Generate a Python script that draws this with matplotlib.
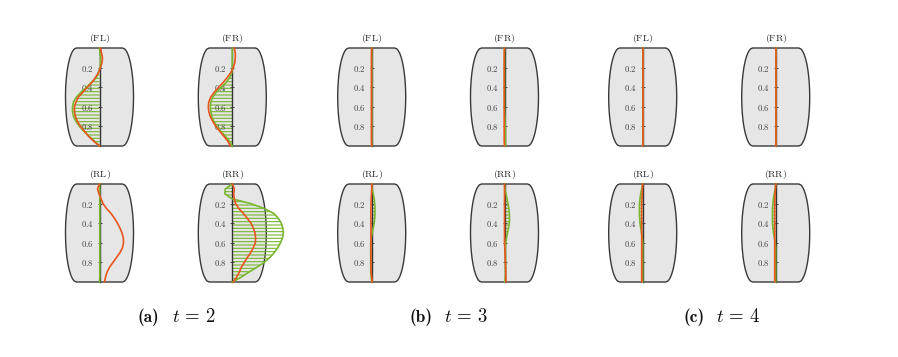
import numpy as np
import matplotlib
matplotlib.use('Agg')
import matplotlib.pyplot as plt
from matplotlib.patches import Polygon
from matplotlib.font_manager import FontProperties
import os

plt.rcParams['mathtext.fontset'] = 'cm'
plt.rcParams['hatch.linewidth'] = 0.8

# ---------------- data ----------------
depth = [0.00, 0.05, 0.10, 0.15, 0.20, 0.25, 0.30, 0.35, 0.40, 0.45, 0.50,
         0.55, 0.60, 0.65, 0.70, 0.75, 0.80, 0.85, 0.90, 0.95, 1.00]
y_ticks = [0.2, 0.4, 0.6, 0.8]
tick_labels = ['0.2', '0.4', '0.6', '0.8']
wheels = ['FL', 'FR', 'RL', 'RR']
times = [2, 3, 4]
tags = ['a', 'b', 'c']

# t = 2
green_t2_FL = [0, 0.5, 1, 1, 0.5, -1, -3, -8, -13, -18.5, -23, -26, -27, -27, -26, -23.5, -20, -15.5, -10.5, -5, 0]
orange_t2_FL = [1, 2, 3, 2.5, 1, -1, -4, -7.5, -12, -16.5, -21, -23.5, -25, -25, -24, -22, -19, -15, -11, -6, 0]
green_t2_FR = [0, 0, 0, 0, 0, -0.5, -2.5, -6, -11, -16, -19.5, -21.5, -22, -21.5, -20.5, -18.5, -15.5, -11.5, -7, -3, 0]
orange_t2_FR = [2, 3, 3, 2.5, 1, -1.5, -5, -9, -13.5, -18, -21.5, -23.5, -24, -23.5, -22, -19.5, -16.5, -12.5, -8.5, -4.5, -2]
green_t2_RL = [0, 0.3, 0.3, 0.3, 0.3, 0.3, 0.3, 0.3, 0.3, 0.3, 0.3, 0.3, 0.3, 0.3, 0.3, 0.3, 0.3, 0.3, 0.3, 0.3, 0]
orange_t2_RL = [0, -2, -0.5, 1.5, 3.5, 7, 11.5, 15, 18, 20.5, 22.5, 23.8, 24, 23, 20.5, 17, 13.5, 10, 7.5, 6, 5]
green_t2_RR = [0, -7, -7.5, -0.5, 18.5, 32, 41.5, 46, 49, 50.5, 51, 50.3, 48.2, 45.5, 42, 37.5, 32, 24.5, 16.5, 9, 0]
orange_t2_RR = [0, 2, 1.3, 2, 3.3, 6.5, 11, 15, 18.7, 21, 22.7, 23.3, 23, 21, 18.5, 15, 12, 9, 7, 4.3, 1]

# t = 3
green_t3_FL = [0, 0.2, 0.2, 0.2, 0.2, 0.2, 0.2, 0.2, 0.2, 0.2, 0.2, 0.2, 0.2, 0.2, 0.2, 0.2, 0.2, 0.2, 0.2, 0.2, 0]
orange_t3_FL = [0, -0.3, -0.3, -0.3, -0.3, -0.3, -0.3, -0.3, -0.3, -0.3, -0.3, -0.3, -0.3, -0.3, -0.3, -0.3, -0.3, -0.3, -0.3, -0.3, 0]
green_t3_FR = [0, 0, 0, 0, 0, 0, 0, 0, 0, 0, 0, 0, 0.1, 0.2, 0.4, 0.6, 0.8, 1, 1, 1, 1]
orange_t3_FR = [0, -0.3, -0.3, -0.3, -0.3, -0.3, -0.3, -0.3, -0.3, -0.3, -0.3, -0.3, -0.3, -0.3, -0.3, -0.3, -0.3, -0.3, -0.3, -0.3, 0]
green_t3_RL = [0, 0.5, 1.5, 2.5, 3, 3.3, 3.3, 3, 2.5, 1.5, 0.5, -0.5, -1, -1, -1, -1, -1, -1, -1, -0.5, 0]
orange_t3_RL = [0, 0, -0.3, -0.5, -0.7, -0.8, -0.8, -0.8, -0.8, -0.8, -0.8, -0.8, -0.8, -0.8, -0.8, -0.8, -0.8, -0.8, -0.5, 0, 0.5]
green_t3_RR = [0, 0.5, 1.5, 2.5, 3.5, 4.3, 4.8, 5, 4.8, 4, 3, 2, 1.3, 1, 1, 1, 1, 1, 1, 0.8, 0.5]
orange_t3_RR = [0, 0, 0, 0, 0, 0, 0, 0, 0, 0, 0, 0, 0, 0.3, 0.5, 0.7, 0.9, 1.1, 1.3, 1.4, 1.5]

# t = 4
green_t4_FL = [0, 0, 0, 0, 0, 0, 0, 0, 0, 0, 0, 0, 0, 0, 0, 0, 0, 0, 0, 0, 0]
orange_t4_FL = [0, 0.3, 0.3, 0.3, 0.3, 0.3, 0.3, 0.3, 0.3, 0.3, 0.3, 0.3, 0.3, 0.3, 0.3, 0.3, 0.3, 0.3, 0.3, 0.3, 0]
green_t4_FR = [0, 0, 0, 0, 0, 0, 0, 0, 0, 0, 0, 0, 0, 0, 0, 0, 0, 0, 0, 0, 0]
orange_t4_FR = [0, 0.3, 0.3, 0.3, 0.3, 0.3, 0.3, 0.3, 0.3, 0.3, 0.3, 0.3, 0.3, 0.3, 0.3, 0.3, 0.3, 0.3, 0.3, 0.3, 0]
green_t4_RL = [0, -1, -2, -2.7, -3.2, -3.3, -3.3, -3, -2.7, -2, -1.2, -0.5, 0, 0, 0, 0, 0, 0, 0, 0, 0]
orange_t4_RL = [0, -0.3, -0.5, -0.8, -1, -1, -1, -1, -1, -1, -1, -1, -1, -1, -1, -1, -1, -1, -1, -1, -1]
green_t4_RR = [0, -0.5, -1.5, -2.3, -2.8, -3.2, -3.3, -3.3, -3.2, -2.8, -2.2, -1.3, -0.5, 0, 0, 0, 0, 0, 0, 0, 0]
orange_t4_RR = [0, -0.3, -0.6, -0.8, -1, -1, -1, -1, -1, -1, -1, -1, -1, -1, -1, -1, -1, -1, -1, -1, -1]

series = {
    2: {'FL': (green_t2_FL, orange_t2_FL), 'FR': (green_t2_FR, orange_t2_FR),
        'RL': (green_t2_RL, orange_t2_RL), 'RR': (green_t2_RR, orange_t2_RR)},
    3: {'FL': (green_t3_FL, orange_t3_FL), 'FR': (green_t3_FR, orange_t3_FR),
        'RL': (green_t3_RL, orange_t3_RL), 'RR': (green_t3_RR, orange_t3_RR)},
    4: {'FL': (green_t4_FL, orange_t4_FL), 'FR': (green_t4_FR, orange_t4_FR),
        'RL': (green_t4_RL, orange_t4_RL), 'RR': (green_t4_RR, orange_t4_RR)},
}

# ---------------- style / layout ----------------
W, H = 898, 357
GREEN = '#7ab631'
ORANGE = '#e8561f'
TIRE_FACE = '#e6e6e6'
TIRE_EDGE = '#3a3a3a'
AXIS_COL = '#333333'
TEXT_COL = '#444444'

col_centers = [[99.5, 232.3], [371.7, 504.5], [642.7, 775.7]]
row_tops = [48, 184]
tire_h = 98
ax_half_w = 65
caption_tag_x = [148.5, 421, 694]
caption_eq_x = [193.5, 466, 738.5]
caption_y = 317

bold_path = os.path.join(matplotlib.get_data_path(), 'fonts', 'ttf', 'cmb10.ttf')
bold_fp = FontProperties(fname=bold_path, size=12.5)

fig = plt.figure(figsize=(W / 100, H / 100), dpi=100)

# tire outline (decorative), in axis units: x in px-like units, y in depth 0..1
tt = np.linspace(-1, 1, 121)
half = 23 + 11 * np.sqrt(1 - tt ** 2)
yy = 0.5 + 0.5 * tt
tire_xy = np.concatenate([np.column_stack([half, yy]),
                          np.column_stack([-half[::-1], yy[::-1]])])

for gi, t in enumerate(times):
    for wi, wheel in enumerate(wheels):
        r, c = divmod(wi, 2)
        cx = col_centers[gi][c]
        top = row_tops[r]
        ax = fig.add_axes([(cx - ax_half_w) / W, 1 - (top + tire_h) / H,
                           2 * ax_half_w / W, tire_h / H])
        ax.set_xlim(-ax_half_w, ax_half_w)
        ax.set_ylim(1, 0)
        ax.patch.set_visible(False)
        for s in ['top', 'right', 'bottom']:
            ax.spines[s].set_visible(False)
        ax.spines['left'].set_position(('data', 0))
        ax.spines['left'].set_color(AXIS_COL)
        ax.spines['left'].set_linewidth(1.0)
        ax.spines['left'].set_zorder(2.5)
        ax.set_xticks([])
        ax.set_yticks(y_ticks)
        ax.set_yticklabels(['$' + s + '$' for s in tick_labels])
        ax.tick_params(axis='y', direction='inout', length=3, width=0.6,
                       color=AXIS_COL, labelcolor=TEXT_COL, labelsize=6.3, pad=2.5)

        ax.add_patch(Polygon(tire_xy, closed=True, facecolor=TIRE_FACE,
                             edgecolor=TIRE_EDGE, linewidth=1.0, zorder=0,
                             clip_on=False))

        g, o = series[t][wheel]
        ax.fill_betweenx(depth, 0, g, facecolor='none', edgecolor=GREEN,
                         linewidth=0, hatch='-----', zorder=1, clip_on=False)
        ax.plot(g, depth, color=GREEN, lw=1.2, zorder=3, clip_on=False)
        ax.plot(o, depth, color=ORANGE, lw=1.2, zorder=4, clip_on=False)

        ax.text(0, -0.095, r'$\mathrm{(' + wheel + ')}$', ha='center',
                va='center', fontsize=7, color='#222222')

for gi, t in enumerate(times):
    fig.text(caption_tag_x[gi] / W, 1 - caption_y / H, '(' + tags[gi] + ')',
             fontproperties=bold_fp, ha='center', va='center', color='#111111')
    fig.text(caption_eq_x[gi] / W, 1 - caption_y / H, r'$t\,=\,' + str(t) + '$',
             ha='center', va='center', fontsize=13.5, color='#111111')

fig.savefig('out.png', dpi=100)
